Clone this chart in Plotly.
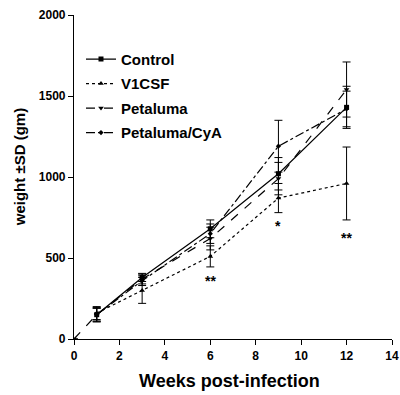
import plotly.graph_objects as go

weeks = [1, 3, 6, 9, 12]
control = [150, 380, 680, 1020, 1430]
control_sd = [45, 25, 55, 100, 130]
v1csf = [160, 300, 510, 870, 960]
v1csf_sd = [40, 80, 65, 90, 225]
petaluma_x = [0, 1, 3, 6, 9, 12]
petaluma = [0, 150, 370, 620, 990, 1540]
petaluma_sd = [0, 40, 30, 70, 100, 170]
cya = [150, 360, 650, 1190, 1420]
cya_sd = [40, 30, 60, 160, 110]

sig_x = [6, 9, 12]
sig_y = [360, 700, 625]
sig_text = ["**", "*", "**"]

x_ticks = [0, 2, 4, 6, 8, 10, 12, 14]
y_ticks = [0, 500, 1000, 1500, 2000]

x_title = "Weeks post-infection"
y_title = "weight ±SD (gm)"

fnt = "Arial, Liberation Sans, sans-serif"

def trace(name, x, y, sd, dash, symbol, size):
    return go.Scatter(
        x=x, y=y, name=name, mode="lines+markers", legendgroup=name,
        line=dict(color="black", width=1.2, dash=dash),
        marker=dict(symbol=symbol, size=size, color="black"),
        error_y=dict(type="data", array=sd, visible=True, color="black",
                     thickness=1, width=4),
    )

fig = go.Figure()
fig.add_trace(trace("Control", weeks, control, control_sd, "solid", "square", 5))
fig.add_trace(trace("V1CSF", weeks, v1csf, v1csf_sd, "dot", "triangle-up", 5))
fig.add_trace(trace("Petaluma", petaluma_x, petaluma, petaluma_sd, "dash", "triangle-down", 5))
fig.add_trace(trace("Petaluma/CyA", weeks, cya, cya_sd, "dashdot", "diamond", 4))

for x, y, t in zip(sig_x, sig_y, sig_text):
    fig.add_annotation(x=x, y=y, text="<b>" + t + "</b>", showarrow=False,
                       font=dict(family=fnt, size=14, color="black"))

# axis titles as annotations (precise placement)
fig.add_annotation(xref="paper", yref="paper", x=0.49, y=-0.13,
                   xanchor="center", yanchor="middle", showarrow=False,
                   text="<b>" + x_title + "</b>",
                   font=dict(family=fnt, size=18, color="black"))
fig.add_annotation(xref="paper", yref="paper", x=-0.173, y=0.53,
                   xanchor="center", yanchor="middle", showarrow=False,
                   textangle=-90, text="<b>" + y_title + "</b>",
                   font=dict(family=fnt, size=15, color="black"))

fig.update_layout(
    width=400, height=395,
    margin=dict(l=74, r=8, t=15, b=56, autoexpand=False),
    paper_bgcolor="white", plot_bgcolor="white",
    font=dict(family=fnt, color="black"),
    showlegend=True,
    legend=dict(x=0.022, y=0.914, xanchor="left", yanchor="top",
                font=dict(family=fnt, size=15, color="black", weight="bold"),
                bgcolor="rgba(0,0,0,0)", itemwidth=30, tracegroupgap=2),
    xaxis=dict(range=[0, 14], tickvals=x_ticks, showline=True, linecolor="black",
               linewidth=1.2, ticks="outside", ticklen=5, tickcolor="black",
               showgrid=False, zeroline=False, automargin=False,
               ticklabeloverflow="allow",
               tickfont=dict(family=fnt, size=12, weight="bold")),
    yaxis=dict(range=[0, 2000], tickvals=y_ticks, showline=True, linecolor="black",
               linewidth=1.2, ticks="outside", ticklen=5, tickcolor="black",
               showgrid=False, zeroline=False, automargin=False,
               tickfont=dict(family=fnt, size=12, weight="bold")),
)

fig.write_html(
    "out.html",
    config={"displayModeBar": False},
    post_script="document.body.style.margin='0';document.body.style.overflow='hidden';",
)
